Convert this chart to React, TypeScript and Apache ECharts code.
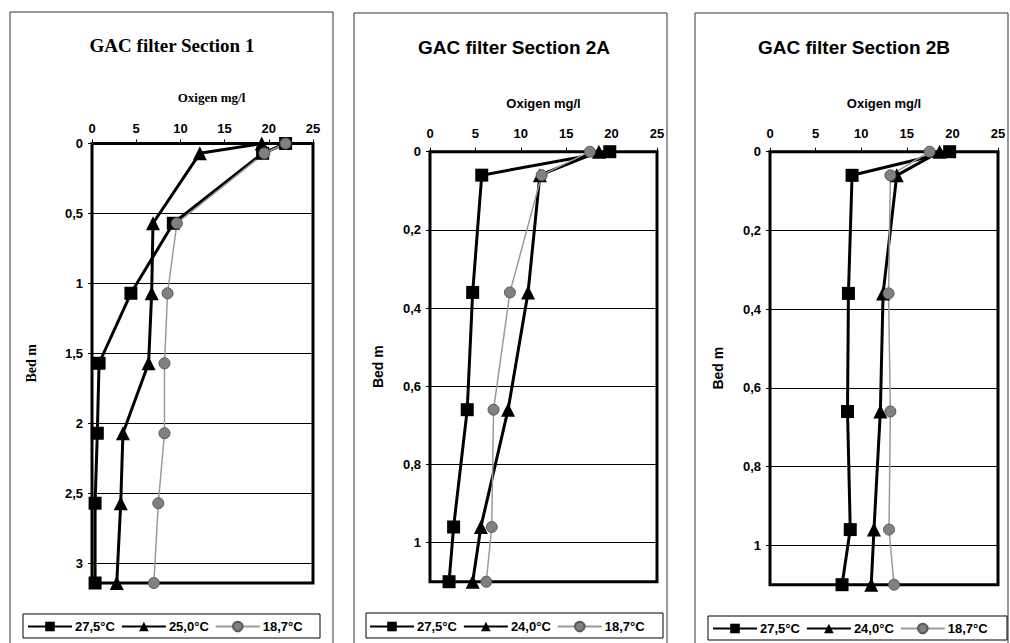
import React, { useEffect, useRef } from "react";
import * as echarts from "echarts";

// Bed depth (m) per panel
const depth1 = [0, 0.07, 0.57, 1.07, 1.57, 2.07, 2.57, 3.14];
const depth2 = [0, 0.06, 0.36, 0.66, 0.96, 1.1];
const depth3 = [0, 0.06, 0.36, 0.66, 0.96, 1.1];

// Oxygen mg/l – Section 1
const s1_275 = [21.9, 19.3, 9.2, 4.4, 0.8, 0.6, 0.35, 0.35];
const s1_250 = [19.2, 12.2, 6.9, 6.75, 6.4, 3.5, 3.25, 2.8];
const s1_187 = [21.9, 19.5, 9.6, 8.55, 8.2, 8.2, 7.5, 7.0];
// Section 2A
const s2_275 = [19.8, 5.7, 4.7, 4.1, 2.6, 2.1];
const s2_240 = [18.6, 12.1, 10.8, 8.6, 5.6, 4.7];
const s2_187 = [17.6, 12.3, 8.8, 7.0, 6.8, 6.2];
// Section 2B
const s3_275 = [19.7, 9.0, 8.6, 8.5, 8.8, 7.9];
const s3_240 = [18.6, 13.9, 12.4, 12.1, 11.4, 11.1];
const s3_187 = [17.5, 13.2, 13.0, 13.2, 13.05, 13.6];

const titles = ["GAC filter Section 1", "GAC filter Section 2A", "GAC filter Section 2B"];
const names1 = ["27,5°C", "25,0°C", "18,7°C"];
const names23 = ["27,5°C", "24,0°C", "18,7°C"];
const xName = "Oxigen mg/l";
const yName = "Bed m";

const SANS = "Liberation Sans, Arial, sans-serif";
const SERIF = "Liberation Serif, Times New Roman, serif";

function pairs(xs: number[], ys: number[]) {
  return xs.map((x, i) => [x, ys[i]]);
}

export default function App() {
  const ref = useRef<HTMLDivElement>(null);
  useEffect(() => {
    if (!ref.current) return;
    const chart = echarts.init(ref.current, undefined, { renderer: "svg" });

    const grids = [
      { left: 92, top: 143.5, width: 221, height: 439.5 },
      { left: 430, top: 151.7, width: 227, height: 430 },
      { left: 770, top: 151.7, width: 228, height: 433 },
    ];
    const panelFont = [SERIF, SANS, SANS];
    const yMax = [3.14, 1.1, 1.1];
    const yInt = [0.5, 0.2, 0.2];
    const yNameGap = [54, 45, 45];
    const xLabelMargin = [9, 12, 12];
    const xNameGap = [40, 42, 42];
    const xNamePad = [[0, 0, 0, 18], [0, 0, 0, 0], [0, 0, 0, 0]];

    const fmt = (v: number) => String(Math.round(v * 100) / 100).replace(".", ",");

    const xAxes = grids.map((_, i) => ({
      type: "value",
      gridIndex: i,
      position: "top",
      min: 0,
      max: 25,
      interval: 5,
      name: xName,
      nameLocation: "middle",
      nameGap: xNameGap[i],
      nameTextStyle: {
        fontFamily: panelFont[i],
        fontWeight: "bold",
        fontSize: 13,
        color: "#000",
        padding: xNamePad[i],
      },
      axisLine: { show: true, lineStyle: { color: "#000", width: 2 } },
      axisTick: { show: true, length: 4, lineStyle: { color: "#000" } },
      axisLabel: { color: "#000", fontFamily: SANS, fontWeight: "bold", fontSize: 13, margin: xLabelMargin[i] },
      splitLine: { show: false },
    }));

    const yAxes = grids.map((_, i) => ({
      type: "value",
      gridIndex: i,
      inverse: true,
      min: 0,
      max: yMax[i],
      interval: yInt[i],
      name: yName,
      nameLocation: "middle",
      nameGap: yNameGap[i],
      nameRotate: 90,
      nameTextStyle: { fontFamily: panelFont[i], fontWeight: "bold", fontSize: 14, color: "#000" },
      axisLine: { show: true, lineStyle: { color: "#000", width: 2 } },
      axisTick: { show: true, length: 4, lineStyle: { color: "#000" } },
      axisLabel: {
        color: "#000",
        fontFamily: SANS,
        fontWeight: "bold",
        fontSize: 13,
        margin: 9,
        showMaxLabel: false,
        formatter: fmt,
      },
      splitLine: { show: true, lineStyle: { color: "#000", width: 1 } },
    }));

    const mk = (name: string, data: number[][], idx: number, kind: number) => {
      const base: any = {
        type: "line",
        name,
        xAxisIndex: idx,
        yAxisIndex: idx,
        data,
        silent: true,
      };
      if (kind === 0) {
        base.symbol = "rect";
        base.symbolSize = 13;
        base.itemStyle = { color: "#000" };
        base.lineStyle = { color: "#000", width: 3 };
      } else if (kind === 1) {
        base.symbol = "triangle";
        base.symbolSize = 14;
        base.itemStyle = { color: "#000" };
        base.lineStyle = { color: "#000", width: 3 };
      } else {
        base.symbol = "circle";
        base.symbolSize = 11;
        base.itemStyle = { color: "#808080", borderColor: "#5a5a5a", borderWidth: 1 };
        base.lineStyle = { color: "#9a9a9a", width: 1.5 };
      }
      return base;
    };

    const series = [
      mk(names1[0], pairs(s1_275, depth1), 0, 0),
      mk(names1[1], pairs(s1_250, depth1), 0, 1),
      mk(names1[2], pairs(s1_187, depth1), 0, 2),
      mk(names23[0], pairs(s2_275, depth2), 1, 0),
      mk(names23[1], pairs(s2_240, depth2), 1, 1),
      mk(names23[2], pairs(s2_187, depth2), 1, 2),
      mk(names23[0], pairs(s3_275, depth3), 2, 0),
      mk(names23[1], pairs(s3_240, depth3), 2, 1),
      mk(names23[2], pairs(s3_187, depth3), 2, 2),
    ];

    const legendBase = {
      orient: "horizontal",
      itemWidth: 44,
      itemHeight: 12,
      itemGap: 6,
      padding: 0,
      selectedMode: false,
      textStyle: { fontFamily: SANS, fontWeight: "bold", fontSize: 13, color: "#000", padding: [0, 0, 0, -2] },
    };
    const legends = [
      { ...legendBase, left: 27, top: 620, data: names1 },
      { ...legendBase, left: 369, top: 620, data: names23 },
      { ...legendBase, left: 712, top: 622, data: names23 },
    ];

    const panels = [
      { x: 10, y: 12, w: 323, h: 640, cx: 172, ty: 45, font: SERIF },
      { x: 354, y: 13, w: 313, h: 640, cx: 514, ty: 47, font: SANS },
      { x: 695, y: 13, w: 313, h: 640, cx: 854, ty: 47, font: SANS },
    ];
    const legendBoxes = [
      { x: 23, y: 614, w: 297, h: 24 },
      { x: 366, y: 613, w: 297, h: 25 },
      { x: 708, y: 616, w: 299, h: 24 },
    ];

    const graphic: any[] = [];
    panels.forEach((p, i) => {
      graphic.push({
        type: "rect",
        shape: { x: p.x, y: p.y, width: p.w, height: p.h },
        style: { fill: "#fff", stroke: "#333", lineWidth: 1 },
        z: -10,
        silent: true,
      });
      graphic.push({
        type: "text",
        x: p.cx,
        y: p.ty,
        style: {
          text: titles[i],
          fontFamily: p.font,
          fontWeight: "bold",
          fontSize: 19,
          fill: "#000",
          textAlign: "center",
          textVerticalAlign: "middle",
        },
        silent: true,
      });
    });
    legendBoxes.forEach((b) => {
      graphic.push({
        type: "rect",
        shape: { x: b.x, y: b.y, width: b.w, height: b.h },
        style: { fill: "none", stroke: "#000", lineWidth: 1 },
        z: 5,
        silent: true,
      });
    });

    chart.setOption({
      animation: false,
      backgroundColor: "#fff",
      grid: grids.map((g) => ({ ...g, show: true, borderColor: "#000", borderWidth: 3, backgroundColor: "transparent" })),
      xAxis: xAxes,
      yAxis: yAxes,
      legend: legends,
      series,
      graphic,
    } as any);

    return () => chart.dispose();
  }, []);

  return (
    <div
      ref={ref}
      style={{ position: "fixed", left: 0, top: 0, width: 1010, height: 643, background: "#fff" }}
    />
  );
}
